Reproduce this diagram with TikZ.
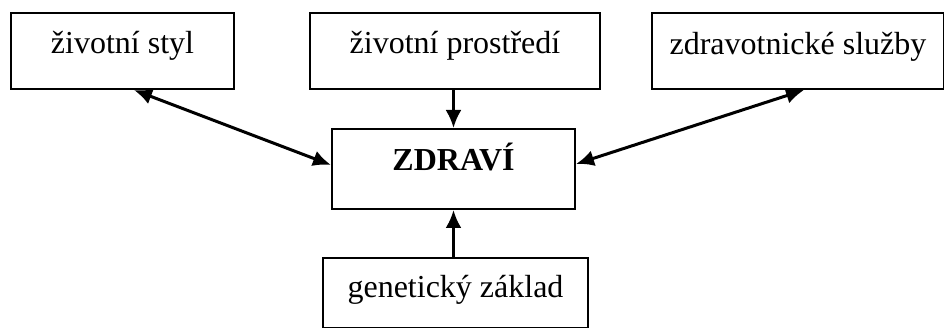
\documentclass[tikz,border=0pt]{standalone}
\usepackage{fontspec}
\setmainfont{Liberation Serif}
\usetikzlibrary{arrows.meta,calc}
\begin{document}
\begin{tikzpicture}[x=1pt,y=-1pt,
  box/.style={draw=black,line width=2pt,inner xsep=0pt,inner ysep=0pt,
    font=\fontsize{32}{38}\selectfont,anchor=north west},
  conn/.style={line width=3pt,-{Latex[length=18pt,width=16pt]}},
  bconn/.style={line width=3pt,{Latex[length=18pt,width=16pt]}-{Latex[length=18pt,width=16pt]}}]
\fill[white] (0,0) rectangle (944,328);
\useasboundingbox (0,0) rectangle (944,328);
\node[box,minimum width=223pt,text height=41pt,text depth=35pt] (b1) at (10,12) {životní styl};
\node[box,minimum width=290pt,text height=41pt,text depth=35pt] (b2) at (309,12) {životní prostředí};
\node[box,minimum width=292pt,text height=42pt,text depth=34pt] (b3) at (651,12) {zdravotnické služby};
\node[box,minimum width=243pt,text height=42pt,text depth=38pt,font=\fontsize{32}{38}\selectfont\bfseries] (z) at (331,128) {ZDRAVÍ};
\node[box,minimum width=265pt,text height=40pt,text depth=30pt] (g) at (322,257) {genetický základ};
\draw[conn] (b2.south -| z.north) -- (z.north);
\draw[conn] (g.north -| z.south) -- (z.south);
\draw[bconn] ($(b1.south)+(11.5,0)$) -- ($(z.west)+(0,-4)$);
\draw[bconn] ($(b3.south)+(6,0)$) -- ($(z.east)+(0,-5)$);
\end{tikzpicture}
\end{document}
